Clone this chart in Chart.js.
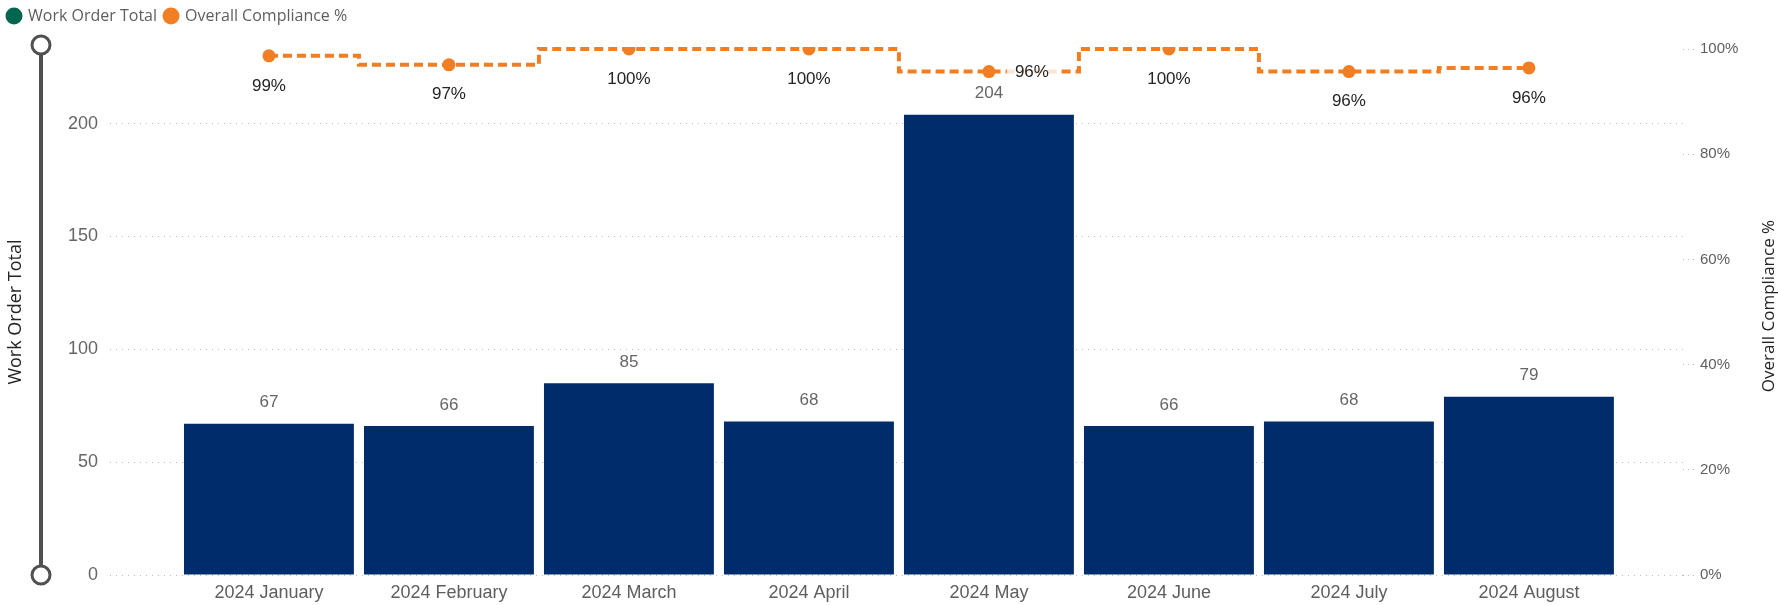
<!DOCTYPE html>
<html>
<head>
<meta charset="utf-8">
<title>Work Order Total and Overall Compliance %</title>
<script src="https://cdn.jsdelivr.net/npm/chart.js@4.4.1/dist/chart.umd.min.js"></script>
<style>
  html, body { margin: 0; padding: 0; background: #fff; }
  #wrap { width: 1778px; height: 605px; position: relative; }
</style>
</head>
<body>
<div id="wrap"><canvas id="chart"></canvas></div>
<script>
let months = ['2024 January', '2024 February', '2024 March', '2024 April',
              '2024 May', '2024 June', '2024 July', '2024 August'];
let workOrders = [67, 66, 85, 68, 204, 66, 68, 79];
let compliance = [98.7, 97.0, 100, 100, 95.7, 100, 95.7, 96.4];
let countTicks = [0, 50, 100, 150, 200];
let percentTicks = [0, 20, 40, 60, 80, 100];

const fontMain = "'Liberation Sans', Arial, sans-serif";
const fontTitle = "'Open Sans', 'Segoe UI', sans-serif";
const navy = '#012C6B';
const orange = '#F17E23';
const legendGreen = '#016650';

// Power BI style labels: bar totals above the bars, % under the points
const valueLabels = {
    id: 'valueLabels',
    afterDatasetsDraw(chart) {
        let ctx = chart.ctx;
        let bars = chart.getDatasetMeta(0).data;
        let pts = chart.getDatasetMeta(1).data;
        ctx.save();
        ctx.textAlign = 'center';
        ctx.textBaseline = 'middle';
        ctx.font = '17px ' + fontMain;
        let barLabelY = [];
        bars.forEach((b, i) => {
            let y = b.y - 21;
            barLabelY.push(y);
            ctx.fillStyle = '#666666';
            ctx.fillText(workOrders[i], b.x, y);
        });
        pts.forEach((p, i) => {
            let txt = Math.round(compliance[i]) + '%';
            let x = p.x, y = p.y + 30;
            if (Math.abs(y - barLabelY[i]) < 24) {
                // would sit on the bar label, move it right of the point
                x = p.x + 43;
                y = p.y + 1;
                let w = ctx.measureText(txt).width;
                ctx.fillStyle = 'rgba(255,255,255,0.8)';
                ctx.fillRect(x - w / 2 - 8, y - 10, w + 16, 20);
            }
            ctx.fillStyle = '#252423';
            ctx.fillText(txt, x, y);
        });
        ctx.restore();
    }
};

// zoom slider on the left and the right axis title (reads bottom-up)
const decorations = {
    id: 'decorations',
    beforeInit(chart) {
        // leave a bit more room under the legend, like the original
        let legend = chart.legend;
        if (!legend) return;
        let fit = legend.fit;
        legend.fit = function () {
            fit.call(this);
            if (this.isHorizontal()) this.height += 15;
        };
    },
    afterDraw(chart) {
        let ctx = chart.ctx;
        let a = chart.chartArea;
        let sx = 41, top = a.top - 4, bottom = a.bottom;
        ctx.save();
        ctx.strokeStyle = '#505050';
        ctx.lineWidth = 4;
        ctx.beginPath();
        ctx.moveTo(sx, top);
        ctx.lineTo(sx, bottom);
        ctx.stroke();
        ctx.lineWidth = 3;
        [top, bottom].forEach(cy => {
            ctx.beginPath();
            ctx.arc(sx, cy, 9, 0, Math.PI * 2);
            ctx.fillStyle = '#ffffff';
            ctx.fill();
            ctx.stroke();
        });

        ctx.translate(1769, (a.top + a.bottom) / 2 - 6);
        ctx.rotate(-Math.PI / 2);
        ctx.font = '17px ' + fontTitle;
        ctx.fillStyle = '#252423';
        ctx.textAlign = 'center';
        ctx.textBaseline = 'middle';
        ctx.fillText('Overall Compliance %', 0, 0);
        ctx.restore();
    }
};

let ctx = document.getElementById('chart');

let myChart = new Chart(ctx, {
    type: 'bar',
    data: {
        datasets: [{
            label: 'Work Order Total',
            data: workOrders.map((v, i) => ({ x: i, y: v })),
            backgroundColor: navy,
            borderWidth: 0,
            yAxisID: 'y',
            barPercentage: 0.944,
            categoryPercentage: 1,
            order: 1
        },
        {
            type: 'line',
            label: 'Overall Compliance %',
            data: compliance.map((v, i) => ({ x: i, y: v })),
            yAxisID: 'y1',
            stepped: 'middle',
            borderColor: orange,
            borderWidth: 4,
            borderDash: [9, 5],
            pointRadius: 6.5,
            pointBackgroundColor: orange,
            pointBorderWidth: 0,
            fill: false,
            clip: { top: 2, left: 10, right: 10, bottom: 10 },
            order: 0
        }]
    },
    options: {
        responsive: true,
        maintainAspectRatio: false,
        animation: false,
        layout: { padding: { top: 0, left: 0, right: 0, bottom: 0 } },
        plugins: {
            tooltip: { enabled: false },
            legend: {
                position: 'top',
                align: 'start',
                onClick: null,
                labels: {
                    usePointStyle: true,
                    boxWidth: 12,
                    boxHeight: 12,
                    padding: 8,
                    color: '#605E5C',
                    font: { family: fontTitle, size: 16 },
                    generateLabels: (chart) => chart.data.datasets.map((ds, i) => ({
                        text: ds.label,
                        fillStyle: i == 0 ? legendGreen : orange,
                        strokeStyle: i == 0 ? legendGreen : orange,
                        lineWidth: 0,
                        pointStyle: 'circle',
                        hidden: false,
                        datasetIndex: i,
                        fontColor: '#605E5C'
                    }))
                }
            }
        },
        scales: {
            x: {
                type: 'linear',
                offset: false,
                min: -0.883,
                max: 7.856,
                grid: { display: false, drawTicks: false },
                border: { display: false },
                afterBuildTicks: (scale) => { scale.ticks = months.map((m, i) => ({ value: i })); },
                afterFit: (scale) => { scale.height = 30; },
                ticks: {
                    autoSkip: false,
                    maxRotation: 0,
                    padding: 7,
                    color: '#605E5C',
                    font: { family: fontMain, size: 18 },
                    callback: (v) => months[v]
                }
            },
            y: {
                position: 'left',
                min: 0,
                max: 233.1,
                afterBuildTicks: (scale) => { scale.ticks = countTicks.map(v => ({ value: v })); },
                afterFit: (scale) => { scale.width = 110; },
                border: { display: false, dash: [1, 5] },
                grid: {
                    color: '#BDBBB9',
                    lineWidth: 1,
                    drawTicks: false
                },
                ticks: {
                    padding: 12,
                    color: '#666666',
                    font: { family: fontMain, size: 18 }
                },
                title: {
                    display: true,
                    text: 'Work Order Total',
                    color: '#252423',
                    padding: { top: 5, bottom: 0 },
                    font: { family: fontTitle, size: 18 }
                }
            },
            y1: {
                position: 'right',
                min: 0,
                max: 100,
                afterBuildTicks: (scale) => { scale.ticks = percentTicks.map(v => ({ value: v })); },
                afterFit: (scale) => { scale.width = 95; },
                border: { display: false },
                grid: {
                    drawOnChartArea: false,
                    drawTicks: true,
                    tickLength: 12,
                    tickColor: '#BDBBB9',
                    tickBorderDash: [1, 4]
                },
                ticks: {
                    padding: 5,
                    color: '#605E5C',
                    font: { family: fontMain, size: 15 },
                    callback: (v) => v + '%'
                }
            }
        }
    },
    plugins: [valueLabels, decorations]
});
</script>
</body>
</html>
